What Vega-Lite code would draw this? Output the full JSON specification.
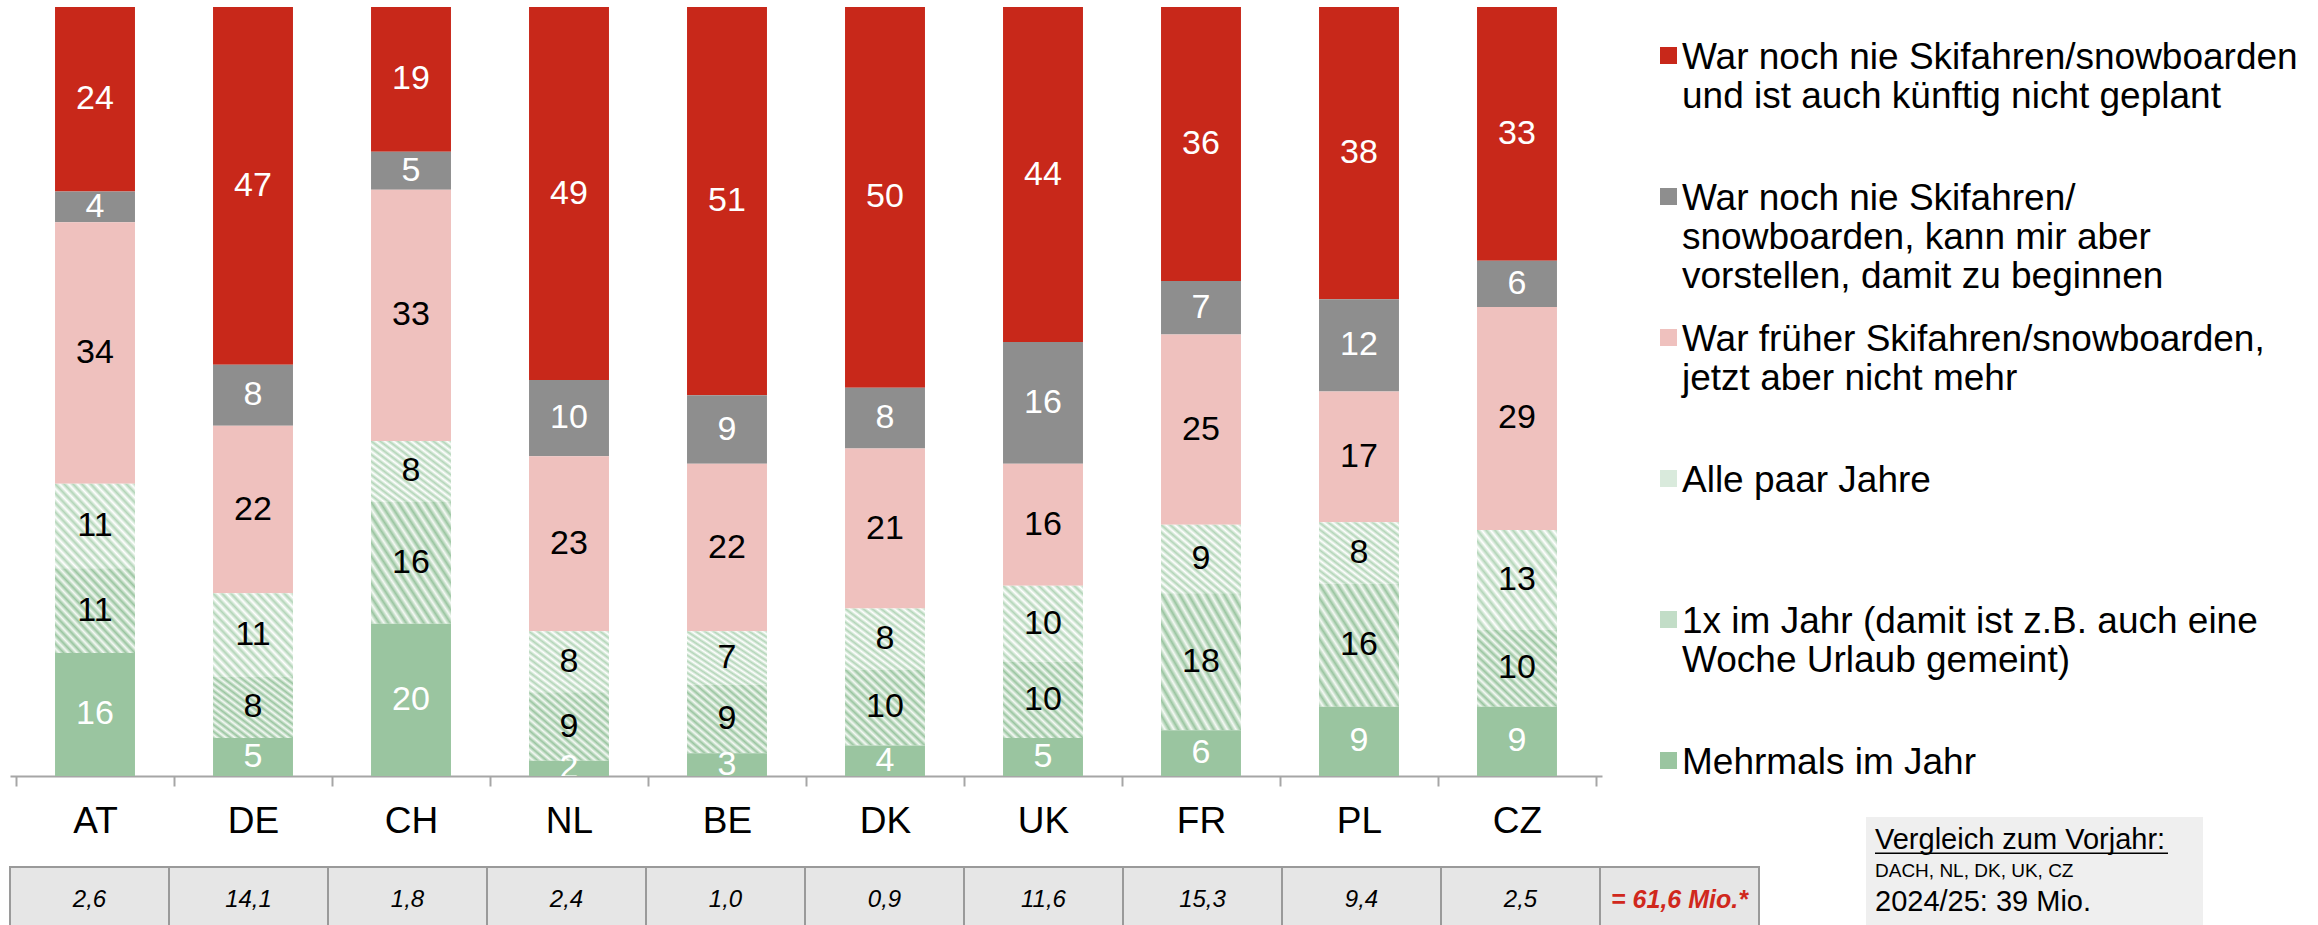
{
  "$schema": "https://vega.github.io/schema/vega-lite/v6.json",
  "padding": {"left": 9, "top": 7, "right": 0, "bottom": 0},
  "background": "white",
  "config": {
    "font": "Liberation Sans",
    "view": {"stroke": null},
    "locale": {"number": {"decimal": ",", "thousands": ".", "grouping": [3], "currency": ["", " €"]}}
  },
  "datasets": {
    "shares": [
      {"country": "AT", "cat": "War noch nie Skifahren/snowboarden und ist auch künftig nicht geplant", "pct": 24},
      {"country": "AT", "cat": "War noch nie Skifahren/snowboarden, kann mir aber vorstellen, damit zu beginnen", "pct": 4},
      {"country": "AT", "cat": "War früher Skifahren/snowboarden, jetzt aber nicht mehr", "pct": 34},
      {"country": "AT", "cat": "Alle paar Jahre", "pct": 11},
      {"country": "AT", "cat": "1x im Jahr (damit ist z.B. auch eine Woche Urlaub gemeint)", "pct": 11},
      {"country": "AT", "cat": "Mehrmals im Jahr", "pct": 16},
      {"country": "DE", "cat": "War noch nie Skifahren/snowboarden und ist auch künftig nicht geplant", "pct": 47},
      {"country": "DE", "cat": "War noch nie Skifahren/snowboarden, kann mir aber vorstellen, damit zu beginnen", "pct": 8},
      {"country": "DE", "cat": "War früher Skifahren/snowboarden, jetzt aber nicht mehr", "pct": 22},
      {"country": "DE", "cat": "Alle paar Jahre", "pct": 11},
      {"country": "DE", "cat": "1x im Jahr (damit ist z.B. auch eine Woche Urlaub gemeint)", "pct": 8},
      {"country": "DE", "cat": "Mehrmals im Jahr", "pct": 5},
      {"country": "CH", "cat": "War noch nie Skifahren/snowboarden und ist auch künftig nicht geplant", "pct": 19},
      {"country": "CH", "cat": "War noch nie Skifahren/snowboarden, kann mir aber vorstellen, damit zu beginnen", "pct": 5},
      {"country": "CH", "cat": "War früher Skifahren/snowboarden, jetzt aber nicht mehr", "pct": 33},
      {"country": "CH", "cat": "Alle paar Jahre", "pct": 8},
      {"country": "CH", "cat": "1x im Jahr (damit ist z.B. auch eine Woche Urlaub gemeint)", "pct": 16},
      {"country": "CH", "cat": "Mehrmals im Jahr", "pct": 20},
      {"country": "NL", "cat": "War noch nie Skifahren/snowboarden und ist auch künftig nicht geplant", "pct": 49},
      {"country": "NL", "cat": "War noch nie Skifahren/snowboarden, kann mir aber vorstellen, damit zu beginnen", "pct": 10},
      {"country": "NL", "cat": "War früher Skifahren/snowboarden, jetzt aber nicht mehr", "pct": 23},
      {"country": "NL", "cat": "Alle paar Jahre", "pct": 8},
      {"country": "NL", "cat": "1x im Jahr (damit ist z.B. auch eine Woche Urlaub gemeint)", "pct": 9},
      {"country": "NL", "cat": "Mehrmals im Jahr", "pct": 2},
      {"country": "BE", "cat": "War noch nie Skifahren/snowboarden und ist auch künftig nicht geplant", "pct": 51},
      {"country": "BE", "cat": "War noch nie Skifahren/snowboarden, kann mir aber vorstellen, damit zu beginnen", "pct": 9},
      {"country": "BE", "cat": "War früher Skifahren/snowboarden, jetzt aber nicht mehr", "pct": 22},
      {"country": "BE", "cat": "Alle paar Jahre", "pct": 7},
      {"country": "BE", "cat": "1x im Jahr (damit ist z.B. auch eine Woche Urlaub gemeint)", "pct": 9},
      {"country": "BE", "cat": "Mehrmals im Jahr", "pct": 3},
      {"country": "DK", "cat": "War noch nie Skifahren/snowboarden und ist auch künftig nicht geplant", "pct": 50},
      {"country": "DK", "cat": "War noch nie Skifahren/snowboarden, kann mir aber vorstellen, damit zu beginnen", "pct": 8},
      {"country": "DK", "cat": "War früher Skifahren/snowboarden, jetzt aber nicht mehr", "pct": 21},
      {"country": "DK", "cat": "Alle paar Jahre", "pct": 8},
      {"country": "DK", "cat": "1x im Jahr (damit ist z.B. auch eine Woche Urlaub gemeint)", "pct": 10},
      {"country": "DK", "cat": "Mehrmals im Jahr", "pct": 4},
      {"country": "UK", "cat": "War noch nie Skifahren/snowboarden und ist auch künftig nicht geplant", "pct": 44},
      {"country": "UK", "cat": "War noch nie Skifahren/snowboarden, kann mir aber vorstellen, damit zu beginnen", "pct": 16},
      {"country": "UK", "cat": "War früher Skifahren/snowboarden, jetzt aber nicht mehr", "pct": 16},
      {"country": "UK", "cat": "Alle paar Jahre", "pct": 10},
      {"country": "UK", "cat": "1x im Jahr (damit ist z.B. auch eine Woche Urlaub gemeint)", "pct": 10},
      {"country": "UK", "cat": "Mehrmals im Jahr", "pct": 5},
      {"country": "FR", "cat": "War noch nie Skifahren/snowboarden und ist auch künftig nicht geplant", "pct": 36},
      {"country": "FR", "cat": "War noch nie Skifahren/snowboarden, kann mir aber vorstellen, damit zu beginnen", "pct": 7},
      {"country": "FR", "cat": "War früher Skifahren/snowboarden, jetzt aber nicht mehr", "pct": 25},
      {"country": "FR", "cat": "Alle paar Jahre", "pct": 9},
      {"country": "FR", "cat": "1x im Jahr (damit ist z.B. auch eine Woche Urlaub gemeint)", "pct": 18},
      {"country": "FR", "cat": "Mehrmals im Jahr", "pct": 6},
      {"country": "PL", "cat": "War noch nie Skifahren/snowboarden und ist auch künftig nicht geplant", "pct": 38},
      {"country": "PL", "cat": "War noch nie Skifahren/snowboarden, kann mir aber vorstellen, damit zu beginnen", "pct": 12},
      {"country": "PL", "cat": "War früher Skifahren/snowboarden, jetzt aber nicht mehr", "pct": 17},
      {"country": "PL", "cat": "Alle paar Jahre", "pct": 8},
      {"country": "PL", "cat": "1x im Jahr (damit ist z.B. auch eine Woche Urlaub gemeint)", "pct": 16},
      {"country": "PL", "cat": "Mehrmals im Jahr", "pct": 9},
      {"country": "CZ", "cat": "War noch nie Skifahren/snowboarden und ist auch künftig nicht geplant", "pct": 33},
      {"country": "CZ", "cat": "War noch nie Skifahren/snowboarden, kann mir aber vorstellen, damit zu beginnen", "pct": 6},
      {"country": "CZ", "cat": "War früher Skifahren/snowboarden, jetzt aber nicht mehr", "pct": 29},
      {"country": "CZ", "cat": "Alle paar Jahre", "pct": 13},
      {"country": "CZ", "cat": "1x im Jahr (damit ist z.B. auch eine Woche Urlaub gemeint)", "pct": 10},
      {"country": "CZ", "cat": "Mehrmals im Jahr", "pct": 9}
    ],
    "volume": [
      {"country": "AT", "mio": 2.6},
      {"country": "DE", "mio": 14.1},
      {"country": "CH", "mio": 1.8},
      {"country": "NL", "mio": 2.4},
      {"country": "BE", "mio": 1.0},
      {"country": "DK", "mio": 0.9},
      {"country": "UK", "mio": 11.6},
      {"country": "FR", "mio": 15.3},
      {"country": "PL", "mio": 9.4},
      {"country": "CZ", "mio": 2.5},
      {"country": "Gesamt", "mio": 61.6}
    ],
    "note": [
      {"line": "1", "text": "Vergleich zum Vorjahr:"},
      {"line": "2", "text": "DACH, NL, DK, UK, CZ"},
      {"line": "3", "text": "2024/25: 39 Mio."}
    ]
  },
  "bounds": "flush",
  "spacing": 41,
  "resolve": {"scale": {"color": "independent"}, "legend": {"color": "independent"}},
  "vconcat": [
    {
      "width": 1592,
      "height": 769,
      "data": {"name": "shares"},
      "transform": [
        {"calculate": "indexof(['War noch nie Skifahren/snowboarden und ist auch künftig nicht geplant', 'War noch nie Skifahren/snowboarden, kann mir aber vorstellen, damit zu beginnen', 'War früher Skifahren/snowboarden, jetzt aber nicht mehr', 'Alle paar Jahre', '1x im Jahr (damit ist z.B. auch eine Woche Urlaub gemeint)', 'Mehrmals im Jahr'], datum.cat)", "as": "rank"}
      ],
      "encoding": {
        "x": {
          "field": "country", "type": "nominal", "sort": null, "title": null,
          "scale": {"paddingInner": 0, "paddingOuter": 0.038},
          "axis": {
            "labelAngle": 0, "labelFontSize": 37, "labelColor": "#000000", "labelPadding": 17,
            "tickSize": 10, "tickBand": "extent", "tickColor": "#A6A6A6", "tickWidth": 2,
            "domainColor": "#A6A6A6", "domainWidth": 2
          }
        },
        "order": {"field": "rank", "type": "quantitative", "sort": "descending"}
      },
      "layer": [
        {
          "mark": {"type": "bar", "width": {"band": 0.506}},
          "encoding": {
            "y": {"field": "pct", "type": "quantitative", "stack": "normalize", "axis": null},
            "color": {
              "condition": [
                {
                  "test": "datum.cat == 'Alle paar Jahre'",
                  "value": {
                    "gradient": "linear", "x1": 0, "y1": 1, "x2": 1, "y2": 0,
                    "stops": [
                      {"offset": 0, "color": "#B3D5B8"}, {"offset": 0.0278, "color": "#FFFFFF"},
                      {"offset": 0.0556, "color": "#B3D5B8"}, {"offset": 0.0833, "color": "#FFFFFF"},
                      {"offset": 0.1111, "color": "#B3D5B8"}, {"offset": 0.1389, "color": "#FFFFFF"},
                      {"offset": 0.1667, "color": "#B3D5B8"}, {"offset": 0.1944, "color": "#FFFFFF"},
                      {"offset": 0.2222, "color": "#B3D5B8"}, {"offset": 0.25, "color": "#FFFFFF"},
                      {"offset": 0.2778, "color": "#B3D5B8"}, {"offset": 0.3056, "color": "#FFFFFF"},
                      {"offset": 0.3333, "color": "#B3D5B8"}, {"offset": 0.3611, "color": "#FFFFFF"},
                      {"offset": 0.3889, "color": "#B3D5B8"}, {"offset": 0.4167, "color": "#FFFFFF"},
                      {"offset": 0.4444, "color": "#B3D5B8"}, {"offset": 0.4722, "color": "#FFFFFF"},
                      {"offset": 0.5, "color": "#B3D5B8"}, {"offset": 0.5278, "color": "#FFFFFF"},
                      {"offset": 0.5556, "color": "#B3D5B8"}, {"offset": 0.5833, "color": "#FFFFFF"},
                      {"offset": 0.6111, "color": "#B3D5B8"}, {"offset": 0.6389, "color": "#FFFFFF"},
                      {"offset": 0.6667, "color": "#B3D5B8"}, {"offset": 0.6944, "color": "#FFFFFF"},
                      {"offset": 0.7222, "color": "#B3D5B8"}, {"offset": 0.75, "color": "#FFFFFF"},
                      {"offset": 0.7778, "color": "#B3D5B8"}, {"offset": 0.8056, "color": "#FFFFFF"},
                      {"offset": 0.8333, "color": "#B3D5B8"}, {"offset": 0.8611, "color": "#FFFFFF"},
                      {"offset": 0.8889, "color": "#B3D5B8"}, {"offset": 0.9167, "color": "#FFFFFF"},
                      {"offset": 0.9444, "color": "#B3D5B8"}, {"offset": 0.9722, "color": "#FFFFFF"},
                      {"offset": 1, "color": "#B3D5B8"}
                    ]
                  }
                },
                {
                  "test": "datum.cat == '1x im Jahr (damit ist z.B. auch eine Woche Urlaub gemeint)'",
                  "value": {
                    "gradient": "linear", "x1": 0, "y1": 1, "x2": 1, "y2": 0,
                    "stops": [
                      {"offset": 0, "color": "#9AC5A0"}, {"offset": 0.0278, "color": "#F4F9F4"},
                      {"offset": 0.0556, "color": "#9AC5A0"}, {"offset": 0.0833, "color": "#F4F9F4"},
                      {"offset": 0.1111, "color": "#9AC5A0"}, {"offset": 0.1389, "color": "#F4F9F4"},
                      {"offset": 0.1667, "color": "#9AC5A0"}, {"offset": 0.1944, "color": "#F4F9F4"},
                      {"offset": 0.2222, "color": "#9AC5A0"}, {"offset": 0.25, "color": "#F4F9F4"},
                      {"offset": 0.2778, "color": "#9AC5A0"}, {"offset": 0.3056, "color": "#F4F9F4"},
                      {"offset": 0.3333, "color": "#9AC5A0"}, {"offset": 0.3611, "color": "#F4F9F4"},
                      {"offset": 0.3889, "color": "#9AC5A0"}, {"offset": 0.4167, "color": "#F4F9F4"},
                      {"offset": 0.4444, "color": "#9AC5A0"}, {"offset": 0.4722, "color": "#F4F9F4"},
                      {"offset": 0.5, "color": "#9AC5A0"}, {"offset": 0.5278, "color": "#F4F9F4"},
                      {"offset": 0.5556, "color": "#9AC5A0"}, {"offset": 0.5833, "color": "#F4F9F4"},
                      {"offset": 0.6111, "color": "#9AC5A0"}, {"offset": 0.6389, "color": "#F4F9F4"},
                      {"offset": 0.6667, "color": "#9AC5A0"}, {"offset": 0.6944, "color": "#F4F9F4"},
                      {"offset": 0.7222, "color": "#9AC5A0"}, {"offset": 0.75, "color": "#F4F9F4"},
                      {"offset": 0.7778, "color": "#9AC5A0"}, {"offset": 0.8056, "color": "#F4F9F4"},
                      {"offset": 0.8333, "color": "#9AC5A0"}, {"offset": 0.8611, "color": "#F4F9F4"},
                      {"offset": 0.8889, "color": "#9AC5A0"}, {"offset": 0.9167, "color": "#F4F9F4"},
                      {"offset": 0.9444, "color": "#9AC5A0"}, {"offset": 0.9722, "color": "#F4F9F4"},
                      {"offset": 1, "color": "#9AC5A0"}
                    ]
                  }
                }
              ],
              "field": "cat", "type": "nominal",
              "scale": {
                "domain": [
                  "War noch nie Skifahren/snowboarden und ist auch künftig nicht geplant",
                  "War noch nie Skifahren/snowboarden, kann mir aber vorstellen, damit zu beginnen",
                  "War früher Skifahren/snowboarden, jetzt aber nicht mehr",
                  "Alle paar Jahre",
                  "1x im Jahr (damit ist z.B. auch eine Woche Urlaub gemeint)",
                  "Mehrmals im Jahr"
                ],
                "range": ["#C8281A", "#8E8E8E", "#EFC1BE", "#D9EADC", "#C2DDC7", "#9AC5A0"]
              },
              "legend": {
                "title": null, "orient": "right", "offset": 34, "padding": 14,
                "symbolType": "M-1,0.88H1V2.88H-1Z", "symbolSize": 289, "symbolStrokeWidth": 0,
                "labelFontSize": 37, "labelColor": "#000000", "labelLimit": 1000, "labelOffset": -5,
                "labelBaseline": "top", "rowPadding": 8,
                "labelExpr": "datum.label == 'War noch nie Skifahren/snowboarden und ist auch künftig nicht geplant' ? ['War noch nie Skifahren/snowboarden', 'und ist auch künftig nicht geplant', ''] : datum.label == 'War noch nie Skifahren/snowboarden, kann mir aber vorstellen, damit zu beginnen' ? ['War noch nie Skifahren/', 'snowboarden, kann mir aber', 'vorstellen, damit zu beginnen'] : datum.label == 'War früher Skifahren/snowboarden, jetzt aber nicht mehr' ? ['War früher Skifahren/snowboarden,', 'jetzt aber nicht mehr', ''] : datum.label == 'Alle paar Jahre' ? ['Alle paar Jahre', '', ''] : datum.label == '1x im Jahr (damit ist z.B. auch eine Woche Urlaub gemeint)' ? ['1x im Jahr (damit ist z.B. auch eine', 'Woche Urlaub gemeint)', ''] : datum.label"
              }
            }
          }
        },
        {
          "mark": {"type": "text", "fontSize": 34, "clip": true},
          "encoding": {
            "y": {"field": "pct", "type": "quantitative", "stack": "normalize", "bandPosition": 0.5, "axis": null},
            "text": {"field": "pct", "type": "quantitative"},
            "color": {"condition": {"test": "datum.rank == 0 || datum.rank == 1 || datum.rank == 5", "value": "#FFFFFF"}, "value": "#000000"}
          }
        }
      ]
    },
    {
      "bounds": "flush",
      "spacing": 107,
      "hconcat": [
        {
          "width": 1749,
          "height": 116,
          "data": {"name": "volume"},
          "encoding": {
            "x": {"field": "country", "type": "nominal", "sort": null, "axis": null, "scale": {"paddingInner": 0, "paddingOuter": 0}},
            "y": {"datum": "cell", "type": "nominal", "axis": null, "scale": {"domain": ["cell"], "paddingInner": 0, "paddingOuter": 0.3788, "align": 1}}
          },
          "layer": [
            {"mark": {"type": "bar", "fill": "#E6E6E6", "stroke": "#9A9A9A", "strokeWidth": 2}},
            {
              "transform": [{"filter": "datum.country !== 'Gesamt'"}],
              "mark": {"type": "text", "fontSize": 24, "fontStyle": "italic", "color": "#000000"},
              "encoding": {"text": {"field": "mio", "type": "quantitative", "format": ".1f"}}
            },
            {
              "transform": [
                {"filter": "datum.country === 'Gesamt'"},
                {"calculate": "'= ' + replace(format(datum.mio, '.1f'), '.', ',') + ' Mio.*'", "as": "label"}
              ],
              "mark": {"type": "text", "fontSize": 25, "fontStyle": "italic", "fontWeight": "bold", "color": "#D0281C"},
              "encoding": {"text": {"field": "label", "type": "nominal"}}
            }
          ]
        },
        {
          "width": 337,
          "height": 108,
          "view": {"fill": "#EFEFEF", "stroke": null},
          "data": {"name": "note"},
          "encoding": {
            "y": {"field": "line", "type": "ordinal", "axis": null, "scale": {"type": "point", "padding": 0.75}},
            "x": {"value": 9}
          },
          "layer": [
            {"transform": [{"filter": "datum.line == '1'"}], "mark": {"type": "text", "align": "left", "fontSize": 29, "color": "#000000"}, "encoding": {"text": {"field": "text", "type": "nominal"}}},
            {"transform": [{"filter": "datum.line == '1'"}], "mark": {"type": "rule", "color": "#000000", "strokeWidth": 1.5}, "encoding": {"x2": {"value": 302}, "yOffset": {"value": 13}}},
            {"transform": [{"filter": "datum.line == '2'"}], "mark": {"type": "text", "align": "left", "fontSize": 19, "color": "#000000"}, "encoding": {"text": {"field": "text", "type": "nominal"}}},
            {"transform": [{"filter": "datum.line == '3'"}], "mark": {"type": "text", "align": "left", "fontSize": 29, "color": "#000000"}, "encoding": {"text": {"field": "text", "type": "nominal"}}}
          ]
        }
      ]
    }
  ]
}
